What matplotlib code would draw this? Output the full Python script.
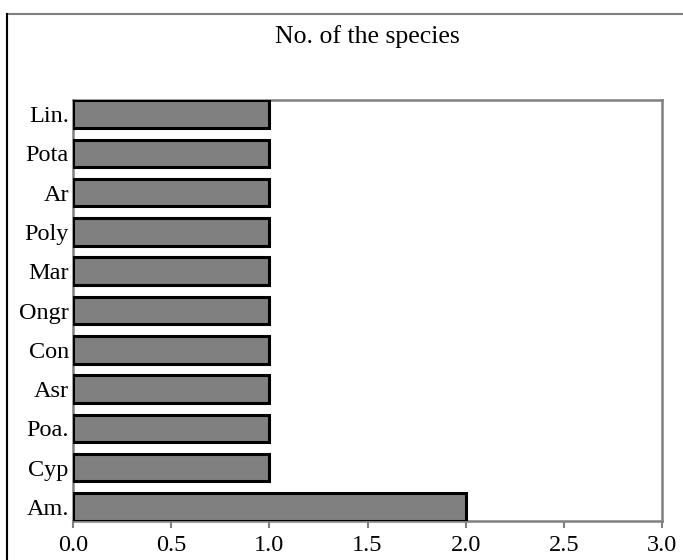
import matplotlib
matplotlib.use("Agg")
import matplotlib.pyplot as plt
from matplotlib.patches import Rectangle

# Species groups, listed bottom to top
groups = ["Am.", "Cyp", "Poa.", "Asr", "Con", "Ongr", "Mar", "Poly", "Ar", "Pota", "Lin."]
counts = [2, 1, 1, 1, 1, 1, 1, 1, 1, 1, 1]
xticks = [0.0, 0.5, 1.0, 1.5, 2.0, 2.5, 3.0]

plt.rcParams["font.family"] = ["Liberation Serif", "DejaVu Serif"]

fig = plt.figure(figsize=(6.83, 5.60), dpi=100)
ax = fig.add_axes([73 / 683, 1 - 521 / 560, 589 / 683, 421 / 560])

ypos = list(range(len(groups)))
ax.barh(ypos, counts, height=0.7, color="#808080", edgecolor="black",
        linewidth=2.2, zorder=3)

ax.set_xlim(0, 3)
ax.set_ylim(-0.36, len(groups) - 0.64)
ax.set_xticks(xticks)
ax.set_xticklabels([f"{t:.1f}" for t in xticks], fontsize=17.5)
ax.set_yticks(ypos)
ax.set_yticklabels(groups, fontsize=17.5)
ax.tick_params(axis="x", length=5, width=1.5, color="#808080", pad=5)
ax.tick_params(axis="y", length=0, pad=3)

for side in ax.spines.values():
    side.set_color("#808080")
    side.set_linewidth(1.8)

fig.text(367 / 683, 1 - 37 / 560, "No. of the species", ha="center",
         va="center", fontsize=18.5)

# outer frame around the chart area
fig.add_artist(Rectangle((7 / 683, -0.1), 1.0, 1 - 14 / 560 + 0.1,
                         transform=fig.transFigure, fill=False,
                         edgecolor="#808080", linewidth=1.5))
fig.add_artist(plt.Line2D([7 / 683, 7 / 683], [0, 1 - 14 / 560],
                          transform=fig.transFigure, color="black", linewidth=1.5))

fig.savefig("out.png", dpi=100)
